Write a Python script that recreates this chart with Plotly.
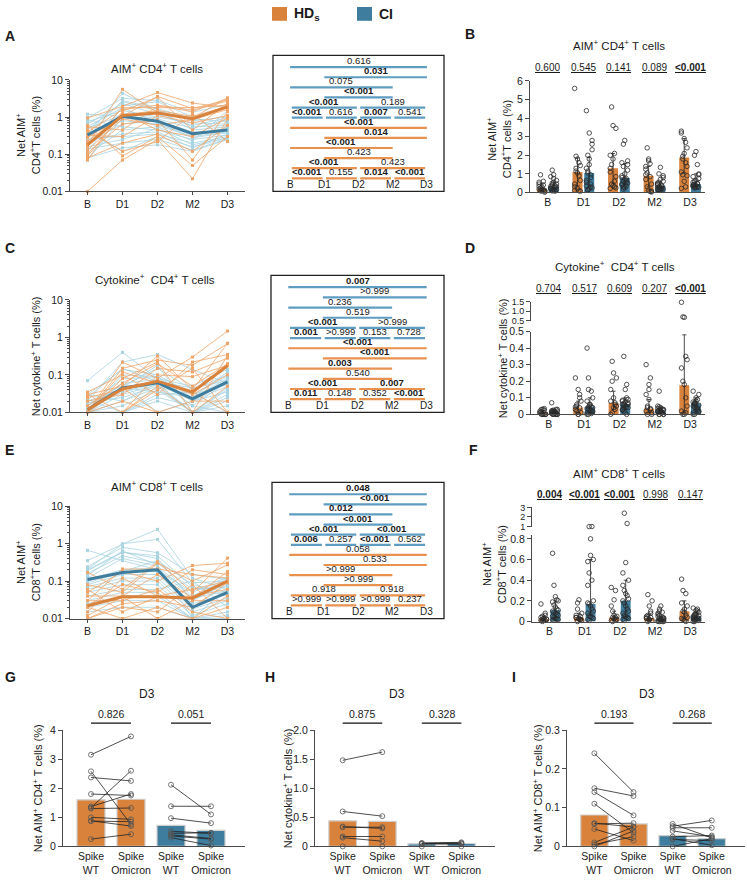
import plotly.graph_objects as go

W, H = 747, 882
FONT = 'Liberation Sans, Arial, sans-serif'

ORANGE = '#D8823B'
BLUE = '#3E7D9D'
ORANGE_THIN = '#EFA468'
BLUE_THIN = '#A8D3E1'
ORANGE_ROW = '#E9914E'
BLUE_ROW = '#5E9CC1'
AXIS = '#4a4a4a'
INK = '#1a1a1a'

timepoints = ['B', 'D1', 'D2', 'M2', 'D3']
FLOOR = 0.01

# ---- AIM+ CD4+ (panels A/B), one row per donor: B, D1, D2, M2, D3
hd_aim4 = [
    [0.18, 5.60, 1.30, 0.95, 3.30],
    [0.95, 1.95, 4.60, 2.40, 1.80],
    [0.28, 1.05, 3.60, 1.70, 2.90],
    [0.40, 1.60, 2.10, 1.55, 2.70],
    [0.07, 1.45, 3.45, 0.45, 2.40],
    [0.55, 0.45, 2.00, 1.40, 3.20],
    [0.22, 1.15, 1.50, 1.05, 1.95],
    [0.16, 1.80, 1.80, 1.80, 2.10],
    [0.13, 0.90, 0.60, 0.85, 1.60],
    [0.11, 0.65, 0.85, 0.07, 1.40],
    [0.32, 0.30, 1.10, 0.70, 1.10],
    [0.09, 1.30, 0.45, 0.30, 0.95],
    [0.08, 0.20, 0.35, 0.12, 0.60],
    [0.60, 0.09, 0.30, 0.05, 0.30],
    [0.01, 0.07, 0.25, 0.022, 0.90],
    [0.45, 0.12, 0.22, 1.25, 0.22],
]
ci_aim4 = [
    [0.33, 4.40, 1.60, 0.45, 0.55],
    [1.20, 1.05, 0.60, 0.30, 0.40],
    [0.95, 3.20, 2.80, 1.35, 2.20],
    [0.07, 0.95, 0.75, 0.36, 0.50],
    [0.45, 2.60, 1.50, 0.80, 1.00],
    [0.85, 0.55, 0.45, 0.25, 0.33],
    [0.12, 2.00, 2.60, 1.00, 2.00],
    [0.55, 1.80, 0.70, 0.28, 0.38],
    [0.27, 0.30, 0.35, 0.20, 0.30],
    [0.65, 2.30, 1.20, 0.60, 0.95],
    [0.19, 1.30, 0.90, 0.50, 0.85],
    [0.40, 0.12, 0.30, 0.16, 0.27],
    [0.75, 1.50, 1.00, 0.70, 0.65],
    [0.10, 0.45, 0.55, 0.23, 1.50],
    [0.30, 2.80, 1.70, 0.90, 0.75],
    [0.21, 0.65, 0.80, 0.40, 0.42],
    [0.50, 1.15, 1.40, 0.55, 0.60],
    [0.14, 0.20, 0.25, 0.13, 0.26],
    [0.36, 0.80, 0.65, 0.33, 0.46],
    [0.16, 0.25, 0.50, 0.18, 0.28],
    [0.24, 0.35, 0.40, 0.15, 0.35],
    [0.08, 0.15, 0.18, 0.12, 0.25],
]
hd_aim4_med = [0.18, 1.10, 1.30, 0.90, 1.88]
ci_aim4_med = [0.33, 1.05, 0.78, 0.36, 0.45]
hd_aim4_q1 = [0.08, 0.35, 0.50, 0.30, 1.05]
hd_aim4_q3 = [0.45, 1.85, 2.10, 1.40, 2.90]
ci_aim4_q1 = [0.15, 0.35, 0.45, 0.20, 0.30]
ci_aim4_q3 = [0.55, 1.90, 1.55, 0.55, 1.00]

# ---- Cytokine+ CD4+ (panels C/D)
hd_cyto = [
    [0.010, 0.220, 0.080, 0.300, 1.480],
    [0.030, 0.050, 0.320, 0.040, 0.700],
    [0.000, 0.150, 0.250, 0.180, 0.680],
    [0.035, 0.100, 0.030, 0.220, 0.350],
    [0.000, 0.080, 0.220, 0.010, 0.330],
    [0.020, 0.030, 0.150, 0.120, 0.280],
    [0.015, 0.060, 0.200, 0.050, 0.200],
    [0.000, 0.000, 0.100, 0.090, 0.180],
    [0.025, 0.040, 0.070, 0.030, 0.100],
    [0.000, 0.010, 0.050, 0.000, 0.050],
    [0.010, 0.045, 0.000, 0.020, 0.020],
    [0.000, 0.020, 0.010, 0.000, 0.000],
    [0.030, 0.000, 0.040, 0.150, 0.000],
    [0.000, 0.120, 0.060, 0.035, 0.010],
]
ci_cyto = [
    [0.070, 0.400, 0.080, 0.050, 0.140],
    [0.020, 0.220, 0.350, 0.140, 0.060],
    [0.010, 0.050, 0.150, 0.040, 0.100],
    [0.030, 0.140, 0.100, 0.030, 0.090],
    [0.000, 0.100, 0.090, 0.025, 0.120],
    [0.015, 0.080, 0.085, 0.020, 0.075],
    [0.025, 0.150, 0.065, 0.045, 0.070],
    [0.010, 0.060, 0.075, 0.015, 0.065],
    [0.000, 0.045, 0.180, 0.010, 0.040],
    [0.020, 0.040, 0.070, 0.030, 0.055],
    [0.012, 0.035, 0.060, 0.020, 0.050],
    [0.000, 0.030, 0.055, 0.000, 0.045],
    [0.018, 0.025, 0.050, 0.025, 0.080],
    [0.008, 0.020, 0.045, 0.010, 0.030],
    [0.000, 0.015, 0.040, 0.000, 0.020],
    [0.022, 0.010, 0.030, 0.035, 0.010],
    [0.000, 0.000, 0.020, 0.000, 0.000],
    [0.012, 0.060, 0.010, 0.020, 0.035],
    [0.000, 0.005, 0.000, 0.010, 0.025],
    [0.030, 0.020, 0.060, 0.000, 0.015],
    [0.005, 0.000, 0.025, 0.015, 0.000],
    [0.015, 0.045, 0.035, 0.025, 0.065],
]
hd_cyto_med = [0.012, 0.042, 0.068, 0.035, 0.175]
ci_cyto_med = [0.012, 0.045, 0.062, 0.023, 0.065]
hd_cyto_q1 = [0.000, 0.010, 0.030, 0.010, 0.020]
hd_cyto_q3 = [0.025, 0.080, 0.140, 0.090, 0.480]
ci_cyto_q1 = [0.000, 0.010, 0.030, 0.010, 0.030]
ci_cyto_q3 = [0.025, 0.100, 0.100, 0.045, 0.100]

# ---- AIM+ CD8+ (panels E/F)
hd_aim8 = [
    [0.170, 0.060, 0.330, 0.050, 0.410],
    [0.050, 0.180, 0.100, 0.260, 0.300],
    [0.030, 0.210, 0.210, 0.150, 0.120],
    [0.080, 0.050, 0.300, 0.100, 0.270],
    [0.022, 0.080, 0.050, 0.200, 0.150],
    [0.040, 0.040, 0.150, 0.035, 0.180],
    [0.015, 0.120, 0.040, 0.060, 0.100],
    [0.010, 0.025, 0.030, 0.020, 0.090],
    [0.060, 0.015, 0.038, 0.040, 0.060],
    [0.020, 0.010, 0.020, 0.010, 0.040],
    [0.012, 0.038, 0.010, 0.030, 0.030],
    [0.000, 0.000, 0.000, 0.000, 0.020],
    [0.030, 0.030, 0.060, 0.015, 0.010],
    [0.010, 0.020, 0.015, 0.080, 0.000],
]
ci_aim8 = [
    [0.660, 0.350, 0.200, 0.050, 0.130],
    [0.350, 0.970, 2.400, 0.120, 0.060],
    [0.240, 0.800, 0.570, 0.150, 0.110],
    [0.210, 0.980, 1.300, 0.090, 0.100],
    [0.200, 0.600, 0.400, 0.030, 0.090],
    [0.190, 0.580, 0.470, 0.070, 0.040],
    [0.160, 0.470, 0.300, 0.060, 0.070],
    [0.140, 0.640, 0.270, 0.010, 0.065],
    [0.120, 0.400, 0.250, 0.040, 0.120],
    [0.110, 0.200, 0.220, 0.035, 0.055],
    [0.100, 0.180, 0.350, 0.080, 0.050],
    [0.090, 0.170, 0.180, 0.025, 0.045],
    [0.080, 0.150, 0.150, 0.020, 0.080],
    [0.070, 0.120, 0.120, 0.018, 0.035],
    [0.060, 0.100, 0.100, 0.015, 0.030],
    [0.050, 0.080, 0.080, 0.012, 0.025],
    [0.040, 0.060, 0.060, 0.100, 0.020],
    [0.030, 0.050, 0.050, 0.010, 0.015],
    [0.025, 0.040, 0.040, 0.000, 0.012],
    [0.020, 0.030, 0.030, 0.000, 0.010],
    [0.015, 0.020, 0.020, 0.000, 0.000],
    [0.010, 0.010, 0.010, 0.000, 0.000],
]
hd_aim8_med = [0.022, 0.038, 0.038, 0.035, 0.100]
ci_aim8_med = [0.110, 0.170, 0.200, 0.020, 0.050]
hd_aim8_q1 = [0.010, 0.012, 0.012, 0.010, 0.030]
hd_aim8_q3 = [0.050, 0.080, 0.100, 0.070, 0.200]
ci_aim8_q1 = [0.040, 0.060, 0.050, 0.010, 0.020]
ci_aim8_q3 = [0.200, 0.600, 0.400, 0.050, 0.090]

# ---- Pairwise timepoint p-values (rows: B-D3, D1-D3, B-M2, D1-M2, B-D2, D2-D3, B-D1, D1-D2, D2-M2, M2-D3)
a_ci_p = ['0.616', '0.031', '0.075', '<0.001', '<0.001', '0.189', '<0.001', '0.616', '0.007', '0.541']
a_hd_p = ['<0.001', '0.014', '<0.001', '0.423', '<0.001', '0.423', '<0.001', '0.155', '0.014', '<0.001']
c_ci_p = ['0.007', '>0.999', '0.236', '0.519', '<0.001', '>0.999', '0.001', '>0.999', '0.153', '0.728']
c_hd_p = ['<0.001', '<0.001', '0.003', '0.540', '<0.001', '0.007', '0.011', '0.148', '0.352', '<0.001']
e_ci_p = ['0.048', '<0.001', '0.012', '<0.001', '<0.001', '<0.001', '0.006', '0.257', '<0.001', '0.562']
e_hd_p = ['0.058', '0.533', '>0.999', '>0.999', '0.918', '0.918', '>0.999', '>0.999', '>0.999', '0.237']

# ---- HDs vs CI p-values per timepoint
b_p = ['0.600', '0.545', '0.141', '0.089', '<0.001']
d_p = ['0.704', '0.517', '0.609', '0.207', '<0.001']
f_p = ['0.004', '<0.001', '<0.001', '0.998', '0.147']

# ---- D3 spike WT vs Omicron
g_hd_wt = [3.15, 2.58, 2.37, 1.80, 1.37, 1.33, 1.30, 1.00, 0.88, 0.87, 0.25]
g_hd_om = [3.78, 0.75, 2.25, 1.75, 1.80, 2.60, 1.32, 0.93, 0.70, 0.85, 0.42]
g_ci_wt = [2.12, 1.38, 0.97, 0.52, 0.45, 0.40, 0.36, 0.30]
g_ci_om = [1.10, 1.38, 0.80, 0.45, 0.47, 0.27, 0.25, 0.03]
g_bars = [1.60, 1.62, 0.72, 0.55]
g_p = ['0.826', '0.051']

h_hd_wt = [1.48, 0.60, 0.34, 0.33, 0.17, 0.15, 0.00]
h_hd_om = [1.62, 0.52, 0.31, 0.33, 0.17, 0.09, 0.00]
h_ci_wt = [0.06, 0.05, 0.05, 0.04, 0.00]
h_ci_om = [0.07, 0.06, 0.05, 0.04, 0.00]
h_bars = [0.44, 0.43, 0.045, 0.05]
h_p = ['0.875', '0.328']

i_hd_wt = [0.24, 0.15, 0.14, 0.11, 0.06, 0.058, 0.045, 0.01, 0.005, 0.0]
i_hd_om = [0.14, 0.13, 0.08, 0.035, 0.05, 0.06, 0.015, 0.05, 0.025, 0.04]
i_ci_wt = [0.058, 0.052, 0.048, 0.040, 0.025, 0.020, 0.018, 0.0]
i_ci_om = [0.022, 0.067, 0.048, 0.025, 0.028, 0.003, 0.015, 0.020]
i_bars = [0.081, 0.058, 0.028, 0.020]
i_p = ['0.193', '0.268']


def px(x):
    return x / W


def py(y):
    return 1 - y / H


def esc(s):
    return s.replace('<', '&lt;').replace('>', '&gt;')


def is_sig(s):
    if s.startswith('<'):
        return True
    if s.startswith('>'):
        return False
    return float(s) < 0.05


traces = []
annotations = []
shapes = []
layout = dict(width=W, height=H, margin=dict(l=0, r=0, t=0, b=0),
              paper_bgcolor='white', plot_bgcolor='white', showlegend=False,
              barmode='overlay', font=dict(family=FONT, size=10, color=INK))

AXIS_STYLE = dict(showgrid=False, zeroline=False, showline=True,
                  linecolor=AXIS, linewidth=1, ticks='outside', ticklen=4,
                  tickcolor=AXIS, tickfont=dict(size=10.5, color=INK),
                  fixedrange=True)


def set_axes(n, xdom, ydom, xkw, ykw):
    s = '' if n == 1 else str(n)
    xd = dict(AXIS_STYLE)
    xd.update(domain=[px(xdom[0]), px(xdom[1])], anchor='y' + s)
    xd.update(xkw)
    yd = dict(AXIS_STYLE)
    yd.update(domain=[py(ydom[1]), py(ydom[0])], anchor='x' + s)
    yd.update(ykw)
    layout['xaxis' + s] = xd
    layout['yaxis' + s] = yd
    return 'x' + s, 'y' + s


def text(x, y, t, size=11, bold=False, **kw):
    if bold:
        t = '<b>' + t + '</b>'
    d = dict(x=x, y=y, text=t, showarrow=False, xref='paper', yref='paper',
             xanchor='center', yanchor='middle',
             font=dict(size=size, color=INK))
    d.update(kw)
    annotations.append(d)


def line_panel(n, xdom, ydom, hd, ci, hd_med, ci_med):
    xa, ya = set_axes(
        n, xdom, ydom,
        dict(range=[-0.5, 4.5], tickvals=list(range(5)), ticktext=timepoints,
             ticklen=3),
        dict(type='log', range=[-2, 1], tickvals=[0.01, 0.1, 1, 10],
             ticktext=['0.01', '0.1', '1', '10'],
             minor=dict(ticks='outside', ticklen=2, dtick='D1',
                        tickcolor=AXIS)))
    for rows, col in [(ci, BLUE_THIN), (hd, ORANGE_THIN)]:
        xs, ys = [], []
        for row in rows:
            for i, v in enumerate(row):
                xs.append(i)
                ys.append(max(v, FLOOR))
            xs.append(None)
            ys.append(None)
        traces.append(go.Scatter(
            x=xs, y=ys, xaxis=xa, yaxis=ya, mode='lines+markers',
            line=dict(color=col, width=0.8),
            marker=dict(symbol='square', size=3, color=col),
            cliponaxis=False))
    for med, col in [(ci_med, BLUE), (hd_med, ORANGE)]:
        traces.append(go.Scatter(
            x=list(range(5)), y=med, xaxis=xa, yaxis=ya, mode='lines',
            line=dict(color=col, width=3)))


ROW_SPANS = [[(0, 4)], [(1, 4)], [(0, 3)], [(1, 3)],
             [(0, 2), (2, 4)], [(0, 1), (1, 2), (2, 3), (3, 4)]]


def stats_box(n, xdom, ydom, ci_p, hd_p):
    xa, ya = set_axes(n, xdom, ydom,
                      dict(visible=False, range=[-0.5, 4.5]),
                      dict(visible=False, range=[12.3, -1.17]))
    for g, (pvals, col) in enumerate([(ci_p, BLUE_ROW), (hd_p, ORANGE_ROW)]):
        k = 0
        for r, spans in enumerate(ROW_SPANS):
            row = g * 6 + r
            for a, b in spans:
                inset = 0.05 if len(spans) > 1 else 0.0
                traces.append(go.Scatter(
                    x=[a + inset, b - inset], y=[row, row], xaxis=xa, yaxis=ya,
                    mode='lines', line=dict(color=col, width=2.2)))
                p = pvals[k]
                text((a + b) / 2, row, esc(p), size=9.5, bold=is_sig(p),
                     xref=xa, yref=ya, yanchor='bottom', yshift=-1)
                k += 1
    for i, t in enumerate(timepoints):
        text(i, 11.6, t, size=10, xref=xa, yref=ya)
    shapes.append(dict(type='rect', xref=xa + ' domain', yref=ya + ' domain',
                       x0=0, x1=1, y0=0, y1=1,
                       line=dict(color='#222', width=1.3)))


def bar_panel(n, xdom, ydom, yrange, ytick, yticktext, hd, ci, hd_med, ci_med,
              hd_q, ci_q, pvals, p_y, upper=None):
    xr = [-0.5, 4.42]
    xa, ya = set_axes(
        n, xdom, ydom,
        dict(range=xr, tickvals=list(range(5)), ticktext=timepoints, ticks=''),
        dict(range=yrange, tickvals=ytick, ticktext=yticktext))
    limit = 1e9
    if upper:
        un, udom, urange, utick, utext = upper
        uxa, uya = set_axes(un, xdom, udom, dict(visible=False, range=xr),
                            dict(range=urange, tickvals=utick, ticktext=utext,
                                 tickfont=dict(size=9, color=INK)))
        limit = yrange[1]
    groups = [(hd, hd_med, hd_q, ORANGE, -0.165), (ci, ci_med, ci_q, BLUE, 0.165)]
    for data, med, q, col, off in groups:
        xs = [i + off for i in range(5)]
        traces.append(go.Bar(
            x=xs, y=med, xaxis=xa, yaxis=ya, width=0.28,
            marker=dict(color=col, line=dict(width=0)),
            error_y=dict(type='data', symmetric=False,
                         array=[q[1][i] - med[i] for i in range(5)],
                         arrayminus=[med[i] - q[0][i] for i in range(5)],
                         color='#222', thickness=0.8, width=2)))
        lo_x, lo_y, up_x, up_y = [], [], [], []
        for i in range(5):
            vals = [row[i] for row in data]
            for k, v in enumerate(vals):
                xj = i + off + ((k % 5) - 2) * 0.04
                if v > limit:
                    up_x.append(xj)
                    up_y.append(v)
                else:
                    lo_x.append(xj)
                    lo_y.append(v)
        mk = dict(symbol='circle-open', size=4.5, color='#2a2a2a',
                  line=dict(width=0.8))
        traces.append(go.Scatter(x=lo_x, y=lo_y, xaxis=xa, yaxis=ya,
                                 mode='markers', marker=mk, cliponaxis=False))
        if upper and up_x:
            traces.append(go.Scatter(x=up_x, y=up_y, xaxis=uxa, yaxis=uya,
                                     mode='markers', marker=mk,
                                     cliponaxis=False))
    for i, p in enumerate(pvals):
        text(i, py(p_y), '<u>' + esc(p) + '</u>', size=10, bold=is_sig(p),
             xref=xa)


def paired_panel(n, xdom, ydom, yrange, ytick, yticktext, hd_wt, hd_om,
                 ci_wt, ci_om, bars, pvals, bracket_y):
    xa, ya = set_axes(
        n, xdom, ydom,
        dict(range=[-0.7, 3.85], tickvals=[0, 1, 2, 3],
             ticktext=['Spike<br>WT', 'Spike<br>Omicron'] * 2, ticks=''),
        dict(range=yrange, tickvals=ytick, ticktext=yticktext))
    traces.append(go.Bar(
        x=[0, 1, 2, 3], y=bars, xaxis=xa, yaxis=ya, width=0.7,
        marker=dict(color=[ORANGE, ORANGE, BLUE, BLUE],
                    line=dict(color='#cfcfcf', width=1.2))))
    for wt, om, base in [(hd_wt, hd_om, 0), (ci_wt, ci_om, 2)]:
        xs, ys = [], []
        for a, b in zip(wt, om):
            xs += [base, base + 1, None]
            ys += [a, b, None]
        traces.append(go.Scatter(
            x=xs, y=ys, xaxis=xa, yaxis=ya, mode='lines+markers',
            line=dict(color='#222', width=0.8),
            marker=dict(symbol='circle-open', size=5, color='#555',
                        line=dict(width=0.8)),
            cliponaxis=False))
        shapes.append(dict(type='line', xref=xa, yref='paper',
                           x0=base, x1=base + 1, y0=py(bracket_y),
                           y1=py(bracket_y), line=dict(color='#111', width=1.2)))
        text(base + 0.5, py(bracket_y), pvals[base // 2], size=10.5,
             xref=xa, yanchor='bottom', yshift=1)


# ---- panels
line_panel(1, (70, 245), (75, 188), hd_aim4, ci_aim4, hd_aim4_med, ci_aim4_med)
stats_box(2, (273, 444), (50, 188), a_ci_p, a_hd_p)
bar_panel(3, (530, 705), (76, 189), [0, 6], list(range(7)),
          [str(v) for v in range(7)], hd_aim4, ci_aim4, hd_aim4_med,
          ci_aim4_med, (hd_aim4_q1, hd_aim4_q3), (ci_aim4_q1, ci_aim4_q3),
          b_p, 62)

line_panel(4, (70, 245), (298, 412), hd_cyto, ci_cyto, hd_cyto_med, ci_cyto_med)
stats_box(5, (271, 444), (273, 412), c_ci_p, c_hd_p)
bar_panel(6, (531, 705), (330, 414), [0, 0.5], [0, 0.1, 0.2, 0.3, 0.4, 0.5],
          ['0', '0.1', '0.2', '0.3', '0.4', '0.5'], hd_cyto, ci_cyto,
          hd_cyto_med, ci_cyto_med, (hd_cyto_q1, hd_cyto_q3),
          (ci_cyto_q1, ci_cyto_q3), d_p, 286,
          upper=(7, (300, 319), [0.5, 1.5], [0.5, 1.0, 1.5],
                 ['0.5', '1.0', '1.5']))

line_panel(8, (70, 245), (507, 621), hd_aim8, ci_aim8, hd_aim8_med, ci_aim8_med)
stats_box(9, (272, 444), (483, 621), e_ci_p, e_hd_p)
bar_panel(10, (532, 705), (536, 624), [0, 0.84], [0, 0.2, 0.4, 0.6, 0.8],
          ['0', '0.2', '0.4', '0.6', '0.8'], hd_aim8, ci_aim8, hd_aim8_med,
          ci_aim8_med, (hd_aim8_q1, hd_aim8_q3), (ci_aim8_q1, ci_aim8_q3),
          f_p, 495,
          upper=(11, (508, 528), [0.95, 3.05], [1, 2, 3], ['1', '2', '3']))

paired_panel(12, (63, 245), (734, 852), [0, 4], [0, 1, 2, 3, 4],
             ['0', '1', '2', '3', '4'], g_hd_wt, g_hd_om, g_ci_wt, g_ci_om,
             g_bars, g_p, 727)
paired_panel(13, (315, 495), (734, 852), [0, 2], [0, 0.5, 1.0, 1.5, 2.0],
             ['0', '0.5', '1.0', '1.5', '2.0'], h_hd_wt, h_hd_om, h_ci_wt,
             h_ci_om, h_bars, h_p, 727)
paired_panel(14, (567, 745), (734, 852), [0, 0.3], [0, 0.1, 0.2, 0.3],
             ['0', '0.1', '0.2', '0.3'], i_hd_wt, i_hd_om, i_ci_wt, i_ci_om,
             i_bars, i_p, 727)

# ---- panel letters
for letter, x, y in [('A', 3, 30), ('B', 463, 28), ('C', 3, 245), ('D', 463, 245),
                     ('E', 3, 450), ('F', 467, 450), ('G', 3, 680),
                     ('H', 263, 680), ('I', 510, 680)]:
    text(px(x), py(y), letter, size=14, bold=True, xanchor='left')

# ---- titles
for t, x, y in [('AIM<sup>+</sup> CD4<sup>+</sup> T cells', 157, 63),
                ('AIM<sup>+</sup> CD4<sup>+</sup> T cells', 619, 40),
                ('Cytokine<sup>+</sup>  CD4<sup>+</sup> T cells', 155, 277),
                ('Cytokine<sup>+</sup>  CD4<sup>+</sup> T cells', 615, 264),
                ('AIM<sup>+</sup> CD8<sup>+</sup> T cells', 157, 487),
                ('AIM<sup>+</sup> CD8<sup>+</sup> T cells', 619, 473),
                ('D3', 147, 697), ('D3', 397, 697), ('D3', 647, 697)]:
    text(px(x), py(y), t, size=12 if t == 'D3' else 11.5)

# ---- y-axis titles
for t, x, y in [('Net AIM<sup>+</sup><br>CD4<sup>+</sup>T cells (%)', 28, 131),
                ('Net AIM<sup>+</sup><br>CD4<sup>+</sup>T cells (%)', 499, 135),
                ('Net cytokine<sup>+</sup> T cells (%)', 36, 355),
                ('Net cytokine<sup>+</sup> T cells (%)', 503, 357),
                ('Net AIM<sup>+</sup><br>CD8<sup>+</sup>T cells (%)', 28, 564),
                ('Net AIM<sup>+</sup><br>CD8<sup>+</sup>T cells (%)', 494, 566),
                ('Net AIM<sup>+</sup> CD4<sup>+</sup> T cells (%)', 38, 793),
                ('Net cytokine<sup>+</sup> T cells (%)', 288, 793),
                ('Net AIM<sup>+</sup> CD8<sup>+</sup> T cells (%)', 538, 793)]:
    text(px(x), py(y), t, size=11, textangle=-90)

# ---- group key
for col, x0, label in [(ORANGE, 272, 'HD<sub>s</sub>'), (BLUE, 357, 'CI')]:
    shapes.append(dict(type='rect', xref='paper', yref='paper',
                       x0=px(x0), x1=px(x0 + 15), y0=py(15), y1=py(1),
                       fillcolor=col, line=dict(width=0)))
    text(px(x0 + 20), py(8), label, size=14, bold=True, xanchor='left')

layout['annotations'] = annotations
layout['shapes'] = shapes
fig = go.Figure(data=traces, layout=layout)
# the page body otherwise adds an 8px margin around the figure
fig.write_html('out.html', config={'displayModeBar': False},
               post_script="document.body.style.margin = '0';")
